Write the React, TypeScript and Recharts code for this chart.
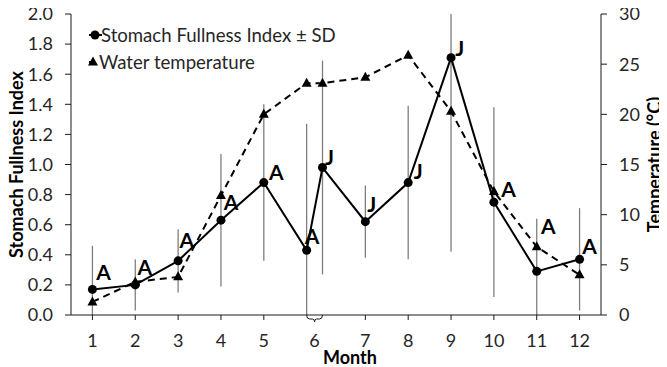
import React from 'react';
import { ComposedChart, Line, XAxis, YAxis, ErrorBar, Legend, Label } from 'recharts';

// ---------- data ----------
const monthLabels = ['1', '2', '3', '4', '5', '6', '6', '7', '8', '9', '10', '11', '12'];
const monthPos = [1, 2, 3, 4, 5, 6, 6.37, 7.37, 8.37, 9.37, 10.37, 11.37, 12.37];
const fullness = [0.17, 0.2, 0.36, 0.63, 0.88, 0.43, 0.98, 0.62, 0.88, 1.71, 0.75, 0.29, 0.37];
const fullnessSD = [0.29, 0.17, 0.21, 0.44, 0.52, 0.84, 0.71, 0.24, 0.51, 1.29, 0.63, 0.35, 0.34];
const temperature = [1.3, 3.3, 3.8, 11.9, 20.0, 23.1, 23.1, 23.7, 25.9, 20.3, 12.3, 6.8, 4.0];
const groups = ['A', 'A', 'A', 'A', 'A', 'A', 'J', 'J', 'J', 'J', 'A', 'A', 'A'];
const seriesNames = ['Stomach Fullness Index \u00b1 SD', 'Water temperature'];
const sfiTicks = [0, 0.2, 0.4, 0.6, 0.8, 1.0, 1.2, 1.4, 1.6, 1.8, 2.0];
const tempTicks = [0, 5, 10, 15, 20, 25, 30];
const sfiDomain: [number, number] = [0, 2];
const tempDomain: [number, number] = [0, 30];
const xDomain: [number, number] = [0.5, 12.87];

// ---------- style ----------
const FONT = "Lato, 'Open Sans', sans-serif";
const TICK_FS = 18;
const LEGEND_FS = 18.6;
const TICK_COLOR = '#262626';
const AXIS_COLOR = '#1a1a1a';
const ERR_COLOR = '#7f7f7f';
const X_TICK_SIZE = 5;
const X_TICK_MARGIN = 17;
// label nudges (px, from point centre to letter centre)
const labelNudge: [number, number][] = [
  [11, -17], [9.5, -17.5], [8.7, -20.5], [10, -17.7], [12.5, -10], [5.5, -14], [7, -10],
  [6.4, -17], [10, -11], [8.7, -9.3], [14.7, -13], [11.6, -45], [10, -12.5],
];

// ---------- derived table ----------
const rows = monthPos.map((x, i) => ({
  x,
  sfi: fullness[i],
  // error bars limited to the visible axis range
  sfiErr: [
    Math.min(fullnessSD[i], fullness[i] - sfiDomain[0]),
    Math.min(fullnessSD[i], sfiDomain[1] - fullness[i]),
  ],
  temp: temperature[i],
  group: groups[i],
}));

const xTicks: { pos: number; label: string; span: number; min: number; max: number }[] = [];
monthLabels.forEach((lab, i) => {
  const ex = xTicks.find((t) => t.label === lab);
  if (!ex) xTicks.push({ pos: monthPos[i], label: lab, span: 0, min: monthPos[i], max: monthPos[i] });
  else {
    ex.max = Math.max(ex.max, monthPos[i]);
    ex.min = Math.min(ex.min, monthPos[i]);
    ex.pos = (ex.min + ex.max) / 2;
    ex.span = ex.max - ex.min;
  }
});

const PLOT_W = 530;
const pxPerUnit = PLOT_W / (xDomain[1] - xDomain[0]);

const XTick = (props: any) => {
  const { x, y, payload } = props;
  const t = xTicks.find((k) => Math.abs(k.pos - payload.value) < 1e-6);
  if (!t) return null;
  const axisY = y - X_TICK_SIZE - X_TICK_MARGIN;
  const half = (t.span * pxPerUnit) / 2;
  return (
    <g>
      {t.span > 0 ? (
        <path
          d={`M${x - half},${axisY} Q${x - half},${axisY + 4} ${x - half + 3},${axisY + 4} L${x - 2},${axisY + 4} Q${x},${axisY + 4} ${x},${axisY + 7} Q${x},${axisY + 4} ${x + 2},${axisY + 4} L${x + half - 3},${axisY + 4} Q${x + half},${axisY + 4} ${x + half},${axisY}`}
          fill="none"
          stroke={AXIS_COLOR}
          strokeWidth={1}
        />
      ) : (
        <line x1={x} x2={x} y1={axisY} y2={axisY + X_TICK_SIZE} stroke={AXIS_COLOR} strokeWidth={1} />
      )}
      <text x={x} y={y + 10} textAnchor="middle" fontFamily={FONT} fontSize={TICK_FS} fill={TICK_COLOR}>
        {t.label}
      </text>
    </g>
  );
};

const CircleDot = (props: any) => {
  const { cx, cy, index, payload } = props;
  if (cx == null || cy == null) return null;
  const [dx, dy] = labelNudge[index] || [10, -15];
  return (
    <g key={`c${index}`}>
      <circle cx={cx} cy={cy} r={4.5} fill="#000" />
      <text
        x={cx + dx}
        y={cy + dy + 7.5}
        textAnchor="middle"
        fontFamily={FONT}
        fontWeight={700}
        fontSize={21}
        fill="#000"
      >
        {payload.group}
      </text>
    </g>
  );
};

const TriangleDot = (props: any) => {
  const { cx, cy, index } = props;
  if (cx == null || cy == null) return null;
  return <path key={`t${index}`} d={`M${cx},${cy - 5.5} L${cx + 5},${cy + 3.5} L${cx - 5},${cy + 3.5} Z`} fill="#000" />;
};

const LegendContent = () => (
  <svg width={280} height={60} style={{ display: 'block', overflow: 'visible' }}>
    <line x1={5} x2={18} y1={15} y2={15} stroke="#000" strokeWidth={2} />
    <circle cx={11} cy={15} r={4.5} fill="#000" />
    <text x={17} y={15} dy="0.36em" fontFamily={FONT} fontSize={LEGEND_FS} fill={TICK_COLOR}>
      {seriesNames[0]}
    </text>
    <line x1={5} x2={10} y1={42} y2={42} stroke="#000" strokeWidth={2} />
    <path d="M9,36.5 L14,45.5 L4,45.5 Z" fill="#000" />
    <text x={15} y={42} dy="0.36em" fontFamily={FONT} fontSize={LEGEND_FS} fill={TICK_COLOR}>
      {seriesNames[1]}
    </text>
  </svg>
);

const LeftTitle = (props: any) => {
  const vb = props.viewBox;
  const cx = vb.x + 16.5;
  const cy = vb.y + vb.height / 2;
  return (
    <text x={cx} y={cy} dy="0.36em" transform={`rotate(-90 ${cx} ${cy})`} textAnchor="middle" fontFamily={FONT} fontWeight={700} fontSize={18} fill="#000">
      Stomach Fullness Index
    </text>
  );
};

const RightTitle = (props: any) => {
  const vb = props.viewBox;
  const cx = vb.x + 54;
  const cy = vb.y + vb.height / 2;
  return (
    <text x={cx} y={cy} dy="0.36em" transform={`rotate(-90 ${cx} ${cy})`} textAnchor="middle" fontFamily={FONT} fontWeight={700} fontSize={18} fill="#000">
      Temperature (°C)
    </text>
  );
};

const MonthTitle = (props: any) => {
  const vb = props.viewBox;
  return (
    <text x={vb.x + vb.width / 2 + 14} y={vb.y + 49} textAnchor="middle" fontFamily={FONT} fontWeight={700} fontSize={18} fill="#000">
      Month
    </text>
  );
};

export default function App() {
  return (
    <div style={{ width: 667, height: 367, marginTop: -8, marginLeft: -8 }}>
      <ComposedChart width={667} height={367} data={rows} margin={{ top: 14, right: 0, bottom: 0, left: 0 }}>
        <XAxis
          type="number"
          dataKey="x"
          domain={xDomain}
          ticks={xTicks.map((t) => t.pos)}
          interval={0}
          tick={<XTick />}
          tickLine={false}
          tickSize={X_TICK_SIZE}
          tickMargin={X_TICK_MARGIN}
          height={52}
          axisLine={{ stroke: AXIS_COLOR, strokeWidth: 1 }}
          allowDataOverflow
        >
          <Label content={MonthTitle} />
        </XAxis>
        <YAxis
          yAxisId="left"
          domain={sfiDomain}
          ticks={sfiTicks}
          interval={0}
          tickFormatter={(v: number) => v.toFixed(1)}
          width={71}
          tickSize={6}
          tickMargin={12}
          tick={{ fill: TICK_COLOR, fontSize: TICK_FS, fontFamily: FONT }}
          axisLine={{ stroke: AXIS_COLOR, strokeWidth: 1 }}
          tickLine={{ stroke: AXIS_COLOR, strokeWidth: 1 }}
          allowDataOverflow
        >
          <Label content={LeftTitle} />
        </YAxis>
        <YAxis
          yAxisId="right"
          orientation="right"
          domain={tempDomain}
          ticks={tempTicks}
          interval={0}
          width={66}
          tickSize={6}
          tickMargin={12}
          tick={{ fill: TICK_COLOR, fontSize: TICK_FS, fontFamily: FONT }}
          axisLine={{ stroke: AXIS_COLOR, strokeWidth: 1 }}
          tickLine={{ stroke: AXIS_COLOR, strokeWidth: 1 }}
          allowDataOverflow
        >
          <Label content={RightTitle} />
        </YAxis>
        <Legend
          content={LegendContent}
          layout="vertical"
          align="center"
          verticalAlign="middle"
          wrapperStyle={{ left: 84, top: 20, width: 280, height: 60 }}
        />
        <Line
          yAxisId="right"
          type="linear"
          dataKey="temp"
          name={seriesNames[1]}
          stroke="#000"
          strokeWidth={2}
          strokeDasharray="7 5"
          dot={TriangleDot}
          activeDot={false}
          isAnimationActive={false}
        />
        <Line
          yAxisId="left"
          type="linear"
          dataKey="sfi"
          name={seriesNames[0]}
          stroke="#000"
          strokeWidth={2}
          dot={CircleDot}
          activeDot={false}
          isAnimationActive={false}
        >
          <ErrorBar dataKey="sfiErr" width={0} stroke={ERR_COLOR} strokeWidth={1.3} direction="y" />
        </Line>
      </ComposedChart>
    </div>
  );
}
